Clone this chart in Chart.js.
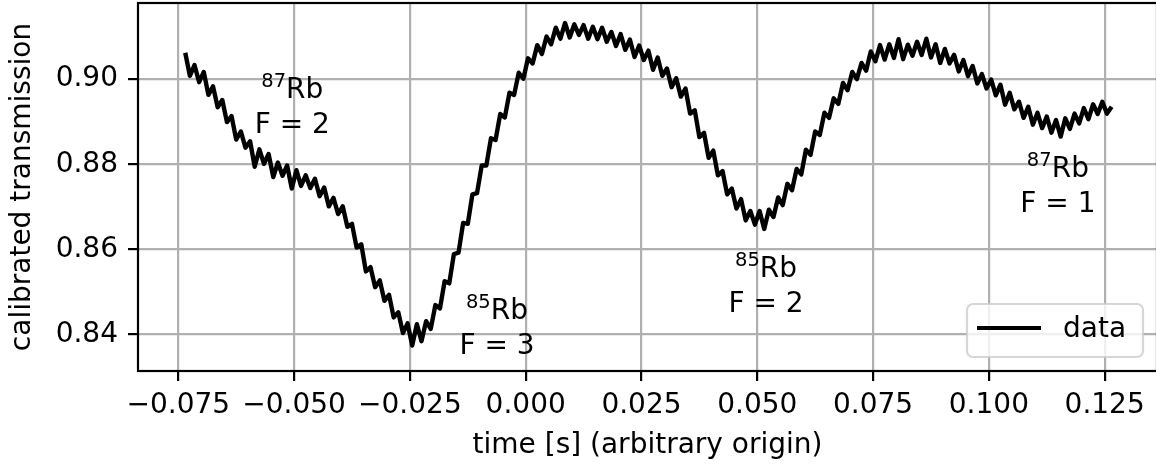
<!DOCTYPE html>
<html>
<head>
<meta charset="utf-8">
<title>Rb absorption scan</title>
<script src="https://cdn.jsdelivr.net/npm/chart.js"></script>
<style>
html, body { margin: 0; padding: 0; background: #fff; overflow: hidden; }
canvas { display: block; }
</style>
</head>
<body>
<canvas id="scan" width="1160" height="469"></canvas>
<script>
// ---------- data ----------

const timeS = [
  -0.0735,-0.0725,-0.0715,-0.0705,-0.0695,-0.0685,-0.0675,-0.0665,-0.0655,-0.0645,
  -0.0635,-0.0625,-0.0615,-0.0605,-0.0595,-0.0585,-0.0575,-0.0565,-0.0555,-0.0545,
  -0.0535,-0.0525,-0.0515,-0.0505,-0.0495,-0.0485,-0.0475,-0.0465,-0.0455,-0.0445,
  -0.0435,-0.0425,-0.0415,-0.0405,-0.0395,-0.0385,-0.0375,-0.0365,-0.0355,-0.0345,
  -0.0335,-0.0325,-0.0315,-0.0305,-0.0295,-0.0285,-0.0275,-0.0265,-0.0255,-0.0245,
  -0.0235,-0.0225,-0.0215,-0.0205,-0.0195,-0.0185,-0.0175,-0.0165,-0.0155,-0.0145,
  -0.0135,-0.0125,-0.0115,-0.0105,-0.0095,-0.0085,-0.0075,-0.0065,-0.0055,-0.0045,
  -0.0035,-0.0025,-0.0015,-0.0005,0.0005,0.0015,0.0025,0.0035,0.0045,0.0055,
  0.0065,0.0075,0.0085,0.0095,0.0105,0.0115,0.0125,0.0135,0.0145,0.0155,
  0.0165,0.0175,0.0185,0.0195,0.0205,0.0215,0.0225,0.0235,0.0245,0.0255,
  0.0265,0.0275,0.0285,0.0295,0.0305,0.0315,0.0325,0.0335,0.0345,0.0355,
  0.0365,0.0375,0.0385,0.0395,0.0405,0.0415,0.0425,0.0435,0.0445,0.0455,
  0.0465,0.0475,0.0485,0.0495,0.0505,0.0515,0.0525,0.0535,0.0545,0.0555,
  0.0565,0.0575,0.0585,0.0595,0.0605,0.0615,0.0625,0.0635,0.0645,0.0655,
  0.0665,0.0675,0.0685,0.0695,0.0705,0.0715,0.0725,0.0735,0.0745,0.0755,
  0.0765,0.0775,0.0785,0.0795,0.0805,0.0815,0.0825,0.0835,0.0845,0.0855,
  0.0865,0.0875,0.0885,0.0895,0.0905,0.0915,0.0925,0.0935,0.0945,0.0955,
  0.0965,0.0975,0.0985,0.0995,0.1005,0.1015,0.1025,0.1035,0.1045,0.1055,
  0.1065,0.1075,0.1085,0.1095,0.1105,0.1115,0.1125,0.1135,0.1145,0.1155,
  0.1165,0.1175,0.1185,0.1195,0.1205,0.1215,0.1225,0.1235,0.1245,0.1255,
  0.1265
];

const transmission = [
  0.9062,0.9008,0.9033,0.8993,0.9017,0.8963,0.8983,0.8934,0.8951,0.8899,
  0.8913,0.8858,0.8877,0.8839,0.8854,0.8794,0.8835,0.8801,0.8824,0.8770,
  0.8804,0.8773,0.8797,0.8743,0.8786,0.8749,0.8774,0.8744,0.8766,0.8725,
  0.8745,0.8701,0.8721,0.8683,0.8701,0.8653,0.8660,0.8604,0.8612,0.8548,
  0.8558,0.8511,0.8527,0.8479,0.8493,0.8440,0.8452,0.8403,0.8426,0.8374,
  0.8424,0.8384,0.8431,0.8413,0.8469,0.8461,0.8525,0.8520,0.8589,0.8592,
  0.8662,0.8660,0.8729,0.8732,0.8797,0.8797,0.8861,0.8857,0.8918,0.8910,
  0.8968,0.8963,0.9015,0.9001,0.9049,0.9037,0.9080,0.9059,0.9100,0.9082,
  0.9121,0.9095,0.9132,0.9098,0.9129,0.9104,0.9127,0.9095,0.9123,0.9094,
  0.9121,0.9088,0.9111,0.9078,0.9106,0.9069,0.9093,0.9052,0.9079,0.9045,
  0.9067,0.9022,0.9051,0.9008,0.9025,0.8981,0.9002,0.8959,0.8978,0.8919,
  0.8927,0.8864,0.8874,0.8815,0.8832,0.8774,0.8784,0.8729,0.8743,0.8696,
  0.8718,0.8668,0.8690,0.8658,0.8690,0.8648,0.8693,0.8676,0.8722,0.8704,
  0.8754,0.8739,0.8789,0.8776,0.8834,0.8822,0.8877,0.8869,0.8921,0.8909,
  0.8955,0.8942,0.8991,0.8974,0.9017,0.9000,0.9038,0.9020,0.9065,0.9042,
  0.9080,0.9046,0.9082,0.9050,0.9094,0.9047,0.9081,0.9055,0.9088,0.9057,
  0.9095,0.9051,0.9082,0.9038,0.9071,0.9037,0.9057,0.9018,0.9045,0.9007,
  0.9031,0.8990,0.9012,0.8978,0.8999,0.8962,0.8987,0.8940,0.8968,0.8929,
  0.8947,0.8909,0.8935,0.8893,0.8921,0.8885,0.8912,0.8874,0.8904,0.8865,
  0.8908,0.8883,0.8919,0.8896,0.8932,0.8906,0.8941,0.8918,0.8947,0.8919,
  0.8935
];

const xTicks = [-0.075, -0.050, -0.025, 0.000, 0.025, 0.050, 0.075, 0.100, 0.125];
const yTicks = [0.84, 0.86, 0.88, 0.90];

// hyperfine dip labels: isotope mass, ground level, anchor (time, transmission) of the "F" line
const dipIsotope = ["87", "85", "85", "87"];
const dipLevel = ["F = 2", "F = 3", "F = 2", "F = 1"];
const dipTime = [-0.0504, -0.0062, 0.0519, 0.1149];
const dipValue = [0.8873, 0.8354, 0.8453, 0.8688];

const seriesName = "data";

// ---------- look ----------

const FAMILY = '"DejaVu Sans", sans-serif';
const FS = 28;

const frameAndNotes = {
  id: 'frameAndNotes',
  afterDatasetsDraw(chart) {
    const ctx = chart.ctx;
    const a = chart.chartArea;
    const xs = chart.scales.x, ys = chart.scales.y;
    ctx.save();

    // spines
    ctx.strokeStyle = '#000';
    ctx.lineWidth = 2.2;
    ctx.strokeRect(a.left, a.top, a.right - a.left, a.bottom - a.top);

    // dip labels
    ctx.fillStyle = '#000';
    ctx.textBaseline = 'alphabetic';
    dipTime.forEach((t, i) => {
      const cx = xs.getPixelForValue(t);
      const base = ys.getPixelForValue(dipValue[i]);
      ctx.font = '19.5px ' + FAMILY;
      const wSup = ctx.measureText(dipIsotope[i]).width;
      ctx.font = FS + 'px ' + FAMILY;
      const wRb = ctx.measureText('Rb').width;
      const left = cx - (wSup + wRb) / 2;
      ctx.textAlign = 'left';
      ctx.font = '19.5px ' + FAMILY;
      ctx.fillText(dipIsotope[i], left, base - 35 - 11);
      ctx.font = FS + 'px ' + FAMILY;
      ctx.fillText('Rb', left + wSup, base - 35);
      ctx.textAlign = 'center';
      ctx.fillText(dipLevel[i], cx, base);
    });

    // legend, lower right
    const lw = 176, lh = 53;
    const lx = a.right - 14 - lw, ly = a.bottom - 14 - lh;
    ctx.beginPath();
    ctx.roundRect(lx, ly, lw, lh, 6);
    ctx.fillStyle = 'rgba(255,255,255,0.8)';
    ctx.fill();
    ctx.strokeStyle = 'rgba(204,204,204,0.8)';
    ctx.lineWidth = 2.2;
    ctx.stroke();

    ctx.beginPath();
    ctx.moveTo(lx + 10, ly + 24);
    ctx.lineTo(lx + 74, ly + 24);
    ctx.strokeStyle = '#000';
    ctx.lineWidth = 4.2;
    ctx.stroke();

    ctx.fillStyle = '#000';
    ctx.font = FS + 'px ' + FAMILY;
    ctx.textAlign = 'left';
    ctx.textBaseline = 'middle';
    ctx.fillText(seriesName, lx + 96, ly + 26);

    ctx.restore();
  }
};

const tickFont = { family: FAMILY, size: FS };

new Chart(document.getElementById('scan'), {
  type: 'line',
  data: {
    datasets: [{
      label: seriesName,
      data: timeS.map((t, i) => ({ x: t, y: transmission[i] })),
      borderColor: '#000',
      borderWidth: 4.4,
      borderJoinStyle: 'round',
      pointRadius: 0,
      tension: 0,
      fill: false
    }]
  },
  options: {
    responsive: false,
    animation: false,
    devicePixelRatio: 1,
    events: [],
    layout: { padding: { top: 3, right: 3, bottom: 0, left: 0 } },
    plugins: { legend: { display: false }, tooltip: { enabled: false } },
    scales: {
      x: {
        type: 'linear',
        min: -0.0837,
        max: 0.1363,
        afterBuildTicks: s => { s.ticks = xTicks.map(v => ({ value: v })); },
        afterFit: s => { s.height = 98; s.paddingLeft = 0; s.paddingRight = 0; s.paddingTop = 0; s.paddingBottom = 0; },
        ticks: {
          autoSkip: false, maxRotation: 0, minRotation: 0,
          padding: 8, color: '#000', font: tickFont,
          callback: v => (v < 0 ? '\u2212' : '') + Math.abs(v).toFixed(3)
        },
        grid: { color: '#b0b0b0', lineWidth: 2.2, tickColor: '#000', tickWidth: 2.2, tickLength: 10 },
        border: { display: false },
        title: { display: true, text: 'time [s] (arbitrary origin)', color: '#000', font: tickFont, padding: { top: 0, bottom: 6 } }
      },
      y: {
        min: 0.8314,
        max: 0.9179,
        afterBuildTicks: s => { s.ticks = yTicks.map(v => ({ value: v })); },
        afterFit: s => { s.width = 138; s.paddingLeft = 0; s.paddingRight = 0; s.paddingTop = 0; s.paddingBottom = 0; },
        ticks: {
          padding: 10, color: '#000', font: tickFont,
          callback: v => v.toFixed(2)
        },
        grid: { color: '#b0b0b0', lineWidth: 2.2, tickColor: '#000', tickWidth: 2.2, tickLength: 10 },
        border: { display: false },
        title: { display: true, text: 'calibrated transmission', color: '#000', font: tickFont, padding: { top: 6, bottom: 0 } }
      }
    }
  },
  plugins: [frameAndNotes]
});
</script>
</body>
</html>
